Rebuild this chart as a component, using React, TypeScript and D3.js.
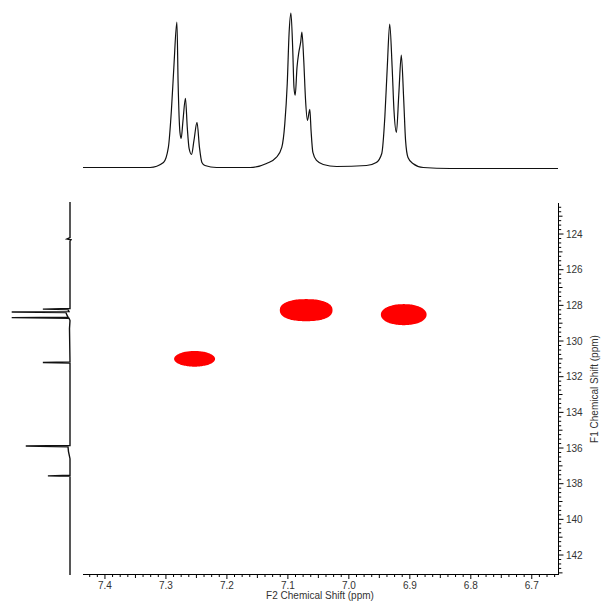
import React from 'react';
import * as d3 from 'd3';

const WIDTH = 603;
const HEIGHT = 601;

// F2 (proton) axis, ppm
const f2Domain = [7.436, 6.657];
const f2Ticks = [7.4, 7.3, 7.2, 7.1, 7.0, 6.9, 6.8, 6.7];
// F1 (carbon) axis, ppm
const f1Domain = [122.26, 143.12];
const f1Ticks = [124, 126, 128, 130, 132, 134, 136, 138, 140, 142];

// 1D proton projection on top: [ppm, intensity]
const topTrace: [number, number][] = [
  [7.436, 0], [7.326, 0], [7.304, 5], [7.296, 20], [7.291, 57], [7.287, 100],
  [7.282, 145], [7.280, 84], [7.277, 35], [7.275, 29], [7.272, 47], [7.268, 69],
  [7.265, 40], [7.262, 19], [7.258, 13], [7.254, 27], [7.249, 45], [7.245, 20],
  [7.241, 5], [7.236, 2], [7.217, 0], [7.19, 0], [7.162, 0], [7.135, 4],
  [7.119, 10], [7.110, 20], [7.105, 44], [7.101, 84], [7.098, 134], [7.095, 154],
  [7.092, 117], [7.090, 80], [7.088, 72], [7.085, 100], [7.082, 115], [7.079, 125],
  [7.077, 135], [7.074, 107], [7.071, 67], [7.068, 47], [7.064, 58], [7.062, 37],
  [7.059, 15], [7.053, 7], [7.042, 3], [7.020, 1], [6.971, 2], [6.955, 5],
  [6.946, 14], [6.941, 50], [6.937, 100], [6.933, 143], [6.929, 100], [6.926, 57],
  [6.922, 35], [6.918, 74], [6.914, 112], [6.910, 67], [6.907, 27], [6.903, 10],
  [6.895, 4], [6.878, 0], [6.834, -1], [6.657, -1],
];

// 1D carbon projection on the left: [ppm, intensity]
const leftTrace: [number, number][] = [
  [122.2, 0], [124.2, 0], [124.28, 3], [124.32, -1], [124.4, 0],
  [128.18, 0], [128.21, 27], [128.24, 2], [128.35, 1], [128.37, 58], [128.41, 4],
  [128.55, 3], [128.66, 2], [128.69, 58], [128.72, 1], [128.85, 0], [129.3, 0.5],
  [131.17, 0], [131.2, 27], [131.23, 0],
  [135.86, 0], [135.89, 44], [135.93, 2], [136.2, 1.5], [136.6, 0],
  [137.53, 0], [137.56, 22], [137.59, 0],
  [143.12, 0],
];

// HSQC cross peaks: centre, half widths (ppm) and contour squareness
const crossF2 = [7.253, 7.070, 6.910];
const crossF1 = [131.0, 128.27, 128.52];
const crossW2 = [0.0336, 0.0432, 0.0375];
const crossW1 = [0.44, 0.62, 0.59];
const crossShape = [2.0, 2.3, 2.1];

const FONT = 'Liberation Sans, Arial, sans-serif';

export default function App() {
  const x = d3.scaleLinear().domain(f2Domain).range([83, 558]);
  const y = d3.scaleLinear().domain(f1Domain).range([203, 575]);
  const topY = d3.scaleLinear().domain([0, 154]).range([167.5, 13]);
  const leftX = d3.scaleLinear().domain([0, 58]).range([70, 11.7]);

  const topLine = d3.line<[number, number]>()
    .x(d => x(d[0]))
    .y(d => topY(d[1]))
    .curve(d3.curveMonotoneX);

  const leftLine = d3.line<[number, number]>()
    .x(d => leftX(d[1]))
    .y(d => y(d[0]));

  // superellipse outline for each cross peak contour
  const angles = d3.range(0, 2 * Math.PI, Math.PI / 60);
  const blob = (i: number) => {
    const cx = x(crossF2[i]);
    const cy = y(crossF1[i]);
    const rx = Math.abs(x(crossF2[i] + crossW2[i]) - cx);
    const ry = Math.abs(y(crossF1[i] + crossW1[i]) - cy);
    const e = 2 / crossShape[i];
    const pts: [number, number][] = angles.map(a => {
      const c = Math.cos(a);
      const s = Math.sin(a);
      return [cx + rx * Math.sign(c) * Math.pow(Math.abs(c), e), cy + ry * Math.sign(s) * Math.pow(Math.abs(s), e)];
    });
    return d3.line().curve(d3.curveCardinalClosed)(pts) || '';
  };

  const xMinor = d3.range(Math.ceil(f2Domain[1] / 0.0125), Math.floor(f2Domain[0] / 0.0125) + 1)
    .map(k => k * 0.0125);
  const yMinor = d3.range(Math.ceil(f1Domain[0] / 0.25), Math.floor(f1Domain[1] / 0.25) + 1)
    .map(k => k * 0.25);

  const xLen = (v: number) => {
    const r = Math.round(v * 80);
    if (r % 8 === 0) return 4.5;
    if (r % 4 === 0) return 3.5;
    return 2.5;
  };
  const yLen = (v: number) => {
    const r = Math.round(v * 4);
    if (r % 8 === 0) return 5;
    if (r % 4 === 0) return 4;
    return 2.7;
  };

  return (
    <svg
      xmlns="http://www.w3.org/2000/svg"
      width={WIDTH}
      height={HEIGHT}
      style={{ position: 'absolute', left: 0, top: 0, background: '#fff' }}
    >
      <rect width={WIDTH} height={HEIGHT} fill="#fff" />

      {/* cross peaks */}
      <g fill="#ff0000">
        {crossF2.map((_, i) => (
          <path key={i} d={blob(i)} />
        ))}
      </g>

      {/* projections */}
      <path d={topLine(topTrace) || ''} fill="none" stroke="#111" strokeWidth={1.2} />
      <path d={leftLine(leftTrace) || ''} fill="none" stroke="#111" strokeWidth={1.4} />

      {/* bottom axis */}
      <g stroke="#000" strokeWidth={1}>
        <line x1={83} x2={558.5} y1={574.5} y2={574.5} />
        {xMinor.map(v => (
          <line key={v} x1={x(v)} x2={x(v)} y1={574.5} y2={574.5 + xLen(v)} />
        ))}
      </g>
      <g fontFamily={FONT} fontSize={10} fill="#333" textAnchor="middle">
        {f2Ticks.map(t => (
          <text key={t} x={x(t)} y={589}>{t.toFixed(1)}</text>
        ))}
        <text x={320} y={599}>F2 Chemical Shift (ppm)</text>
      </g>

      {/* right axis */}
      <g stroke="#000" strokeWidth={1}>
        <line x1={558.5} x2={558.5} y1={203} y2={575} />
        {yMinor.map(v => (
          <line key={v} x1={558.5} x2={558.5 + yLen(v)} y1={y(v)} y2={y(v)} />
        ))}
      </g>
      <g fontFamily={FONT} fontSize={10} fill="#333">
        {f1Ticks.map(t => (
          <text key={t} x={566} y={y(t)} dy="0.35em">{t}</text>
        ))}
        <text
          transform={`translate(598,389) rotate(-90)`}
          textAnchor="middle"
        >
          F1 Chemical Shift (ppm)
        </text>
      </g>
    </svg>
  );
}
